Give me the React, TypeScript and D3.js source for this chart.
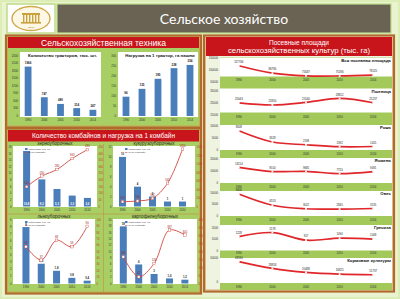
import React from 'react'
import * as d3 from 'd3'

const years = ['1990', '2000', '2005', '2010', '2014']

// тракторы
const tractorCount = [1966, 747, 480, 314, 247]
const tractorLoad = [96, 135, 185, 238, 254]

// комбайны: количество (тыс. шт.) и нагрузка (га на 1 комбайн)
const grainCount = [16.8, 8.2, 5.3, 3.3, 2.6]
const grainLoad = [150, 230, 280, 363, 430]
const cornCount = [10, 4, 2, 1, 1]
const cornLoad = [113, 130, 192, 545, 1350]
const flaxCount = [8, 2.8, 1.8, 0.8, 0.4]
const flaxLoad = [58, 37, 68, 58, 90]
const potatoCount = [18, 6, 3, 1.6, 1.2]
const potatoLoad = [168, 42, 126, 337, 305]

// посевные площади, тыс. га
const cropNames = ['Вся посевная площадь', 'Пшеница', 'Рожь', 'Ячмень', 'Овес', 'Гречиха', 'Кормовые культуры']
const cropAll = [117706, 86780, 75637, 75186, 78525]
const cropWheat = [25043, 23350, 25540, 28812, 25237]
const cropRye = [8008, 3328, 2198, 1392, 1455]
const cropBarley = [13154, 9550, 9685, 7720, 9491]
const cropOats = [9400, 4553, 3022, 2845, 3135]
const cropBuckwheat = [1228, 1578, 917, 1090, 1008]
const cropFodder = [43160, 28858, 20488, 16825, 15737]
const cropTicks = [
  [50000, 100000, 150000],
  [15000, 25000, 35000],
  [0, 5000, 10000],
  [0, 10000, 20000],
  [0, 5000, 10000],
  [0, 1000, 2000],
  [0, 50000],
]
const cropSeries = [cropAll, cropWheat, cropRye, cropBarley, cropOats, cropBuckwheat, cropFodder]

const BLUE = '#4a7ebb'
const RED = '#c8141b'
const LINE = '#e0262a'
const BROWN = '#b06a2c'
const GREEN = '#a7cf63'
const SANS = 'Liberation Sans, Arial, sans-serif'

const num = (v: number) => String(v).replace('.', ',')

function Panel({ x, y, w, h, fill }: { x: number; y: number; w: number; h: number; fill: string }) {
  return (
    <g>
      <rect x={x} y={y} width={w} height={h} fill={fill} stroke={BROWN} strokeWidth={2.2} />
      <rect x={x + 1.6} y={y + 1.6} width={w - 3.2} height={h - 3.2} fill="none" stroke="#d99a55" strokeWidth={0.6} />
    </g>
  )
}

function Header({ x, y, w, h, lines, size, widths }: { x: number; y: number; w: number; h: number; lines: string[]; size: number; widths: number[] }) {
  const cx = x + w / 2
  const gap = size * 1.15
  const y0 = y + h / 2 - ((lines.length - 1) * gap) / 2 + size * 0.35
  return (
    <g>
      <rect x={x} y={y} width={w} height={h} fill={RED} />
      {lines.map((t, i) => (
        <text key={i} x={cx} y={y0 + i * gap} textAnchor="middle" fontFamily={SANS} fontSize={size} fill="#fff"
          textLength={widths[i]} lengthAdjust="spacingAndGlyphs">{t}</text>
      ))}
    </g>
  )
}

type BarProps = { x: number; y: number; w: number; h: number; top: number; values: number[]; max: number; step: number; title: string }

function TractorChart({ x, y, w, h, top, values, max, step, title }: BarProps) {
  const xs = d3.scalePoint<string>().domain(years).range([x, x + w]).padding(0.5)
  const base = y + h - 1
  const ys = d3.scaleLinear().domain([0, max]).range([base, top])
  const ticks = d3.range(0, max + 1, step)
  return (
    <g>
      <rect x={x} y={y} width={w} height={h} fill="#fff" />
      {ticks.map((t) => (
        <text key={t} x={x - 2} y={ys(t) + 1} textAnchor="end" fontFamily={SANS} fontSize={2.8} fill="#333">{t}</text>
      ))}
      {values.map((v, i) => (
        <g key={i}>
          <rect x={xs(years[i])! - 3.4} y={ys(v)} width={6.8} height={base - ys(v)} fill={BLUE} />
          <text x={xs(years[i])!} y={ys(v) - 2.5} textAnchor="middle" fontFamily={SANS} fontSize={3} fontWeight="bold" fill="#222">{v}</text>
          <text x={xs(years[i])!} y={base + 4.5} textAnchor="middle" fontFamily={SANS} fontSize={2.8} fill="#333">{years[i]}</text>
        </g>
      ))}
      <text x={x + w / 2 + 2} y={y + 5} textAnchor="middle" fontFamily={SANS} fontSize={4.4} fontWeight="bold" fill="#111">{title}</text>
    </g>
  )
}

type ComboProps = {
  x: number; y: number; w: number; h: number; r0: number; r1: number; title: string
  counts: number[]; cMax: number; cStep: number; loads: number[]; lMax: number; lStep: number; inside?: boolean
}

function ComboChart({ x, y, w, h, r0, r1, title, counts, cMax, cStep, loads, lMax, lStep, inside }: ComboProps) {
  const xs = d3.scalePoint<string>().domain(years).range([r0, r1]).padding(0.5)
  const base = y + h - 0.5
  const top = y + 1
  const yl = d3.scaleLinear().domain([0, cMax]).range([base, top])
  const yr = d3.scaleLinear().domain([0, lMax]).range([base, top])
  const line = d3.line<number>().x((_, i) => xs(years[i])!).y((d) => yr(d)).curve(d3.curveCatmullRom.alpha(0.5))
  return (
    <g>
      <rect x={x} y={y} width={w} height={h} fill="#fff" />
      <text x={x + w / 2} y={y - 0.8} textAnchor="middle" fontFamily={SANS} fontSize={4.6} fill="#2a2a2a">{title}</text>
      {d3.range(0, cMax + 0.001, cStep).map((t) => (
        <text key={'l' + t} x={x - 1.5} y={yl(t) + 1} textAnchor="end" fontFamily={SANS} fontSize={2.6} fill="#333">{t}</text>
      ))}
      {d3.range(0, lMax + 0.001, lStep).map((t) => (
        <text key={'r' + t} x={x + w + 1.5} y={yr(t) + 1} fontFamily={SANS} fontSize={2.6} fill="#c0392b">{t}</text>
      ))}
      {counts.map((v, i) => (
        <g key={i}>
          <rect x={xs(years[i])! - 3.5} y={yl(v)} width={7} height={base - yl(v)} fill={BLUE} />
          <text x={xs(years[i])!} y={inside ? base - 1.5 : yl(v) - 1.5} textAnchor="middle" fontFamily={SANS} fontSize={2.8}
            fontWeight="bold" fill={inside ? '#fff' : '#222'}>{num(v)}</text>
          <text x={xs(years[i])!} y={base + 4.5} textAnchor="middle" fontFamily={SANS} fontSize={2.8} fill="#333">{years[i]}</text>
        </g>
      ))}
      <path d={line(loads)!} fill="none" stroke="#d0463e" strokeWidth={0.9} />
      {loads.map((v, i) => (
        <g key={'p' + i}>
          <rect x={xs(years[i])! - 1.3} y={yr(v) - 1.3} width={2.6} height={2.6} fill="#fff" stroke="#d0463e" strokeWidth={0.4} />
          <text x={xs(years[i])!} y={yr(v) - 2.5} textAnchor="middle" fontFamily={SANS} fontSize={2.8} fill="#a02020">{v}</text>
        </g>
      ))}
      <rect x={x + 12} y={y + 2} width={2.5} height={2} fill={BLUE} />
      <text x={x + 15.5} y={y + 3.8} fontFamily={SANS} fontSize={2.3} fill="#333">Количество, тыс. шт.</text>
      <line x1={x + 12} x2={x + 14.5} y1={y + 6.5} y2={y + 6.5} stroke="#d0463e" strokeWidth={0.6} />
      <text x={x + 15.5} y={y + 7.3} fontFamily={SANS} fontSize={2.3} fill="#333">га на 1 комбайн</text>
    </g>
  )
}

const rowLayout = [
  { band: [57.5, 76.5], ticks: [58, 82], yr: 79.8 },
  { band: [88.5, 112.5], ticks: [91, 115], yr: 117 },
  { band: [125, 150], ticks: [126, 150], yr: 153.8 },
  { band: [158, 183], ticks: [159.3, 182.7], yr: 187 },
  { band: [191, 216], ticks: [192.7, 215.7], yr: 220.3 },
  { band: [225, 250.5], ticks: [227.7, 250.7], yr: 253.3 },
  { band: [258, 283], ticks: [258.3, 282.3], yr: 286.5 },
]

function CropRows() {
  const xs = d3.scalePoint<string>().domain(years).range([222, 390]).padding(0.5)
  return (
    <g>
      <rect x={220} y={57} width={172} height={233} fill="#a2c95a" />
      {cropSeries.map((vals, r) => {
        const L = rowLayout[r]
        const tk = cropTicks[r]
        const ys = d3.scaleLinear().domain([tk[0], tk[tk.length - 1]]).range([L.ticks[1], L.ticks[0]])
        const line = d3.line<number>().x((_, i) => xs(years[i])!).y((d) => ys(d)).curve(d3.curveCatmullRom.alpha(0.5))
        return (
          <g key={r}>
            <rect x={220} y={L.band[0]} width={172} height={L.band[1] - L.band[0]} fill="#fff" />
            {tk.map((t) => (
              <text key={t} x={218} y={ys(t) + 1} textAnchor="end" fontFamily={SANS} fontSize={2.8} fill="#333">{t}</text>
            ))}
            {years.map((yv) => (
              <text key={yv} x={xs(yv)!} y={L.yr + 1} textAnchor="middle" fontFamily={SANS} fontSize={2.8} fill="#333">{yv}</text>
            ))}
            <path d={line(vals)!} fill="none" stroke={LINE} strokeWidth={1.7} />
            {vals.map((v, i) => (
              <g key={i}>
                <rect x={xs(years[i])! - 0.9} y={ys(v) - 0.9} width={1.8} height={1.8} fill="#fff" />
                <text x={xs(years[i])!} y={ys(v) - 2.8} textAnchor="middle" fontFamily={SANS} fontSize={2.8} fill="#222">{v}</text>
              </g>
            ))}
            <text x={391} y={L.band[0] + 4.3} textAnchor="end" fontFamily={SANS} fontSize={4.3} fontWeight="bold" fill="#111">{cropNames[r]}</text>
          </g>
        )
      })}
    </g>
  )
}

function Logo() {
  return (
    <g>
      <rect x={7} y={4} width={48} height={29} fill="#fff" stroke="#bfdc8a" strokeWidth={1.5} />
      <ellipse cx={31} cy={18.5} rx={19} ry={12} fill="#fdf8e6" stroke="#cfa94a" strokeWidth={1.4} />
      <rect x={22} y={13} width={18} height={2} fill="#c9a13d" />
      {d3.range(6).map((i) => (
        <rect key={i} x={23 + i * 3} y={15} width={1.4} height={7} fill="#c9a13d" />
      ))}
      <rect x={21} y={22} width={20} height={1.6} fill="#c9a13d" />
      <text x={31} y={27.5} textAnchor="middle" fontFamily={SANS} fontSize={2.5} fill="#b08a2e">ГДРБ</text>
    </g>
  )
}

export default function App() {
  return (
    <div style={{ position: 'absolute', left: 0, top: 0 }}>
      <svg width={400} height={299} viewBox="0 0 400 299" style={{ display: 'block' }}>
        <rect width={400} height={299} fill="#dcedb6" />
        <rect x={2} y={2} width={396} height={295} fill="#e9f3cf" />
        <Logo />
        <rect x={57} y={4} width={334} height={29} fill="#6a6354" stroke="#bfdc8a" strokeWidth={1.2} />
        <text x={224} y={23.5} textAnchor="middle" fontFamily="Lato, Open Sans, sans-serif" fontSize={14} fill="#fff">Сельское хозяйство</text>

        <Panel x={6} y={35.5} w={195} h={92} fill={GREEN} />
        <Header x={8} y={37} w={191} h={11} lines={['Сельскохозяйственная техника']} size={9} widths={[125]} />
        <TractorChart x={20} y={52} w={81} h={65} top={55.7} values={tractorCount} max={2400} step={300} title="Количество тракторов, тыс. шт." />
        <TractorChart x={118} y={52} w={80} h={65} top={55.7} values={tractorLoad} max={300} step={50} title="Нагрузка на 1 трактор, га пашни" />

        <Panel x={6} y={128.5} w={195} h={165} fill={GREEN} />
        <Header x={8} y={130} w={191} h={11.5} lines={['Количество комбайнов и нагрузка на 1 комбайн']} size={7} widths={[143]} />
        <ComboChart x={13} y={146} w={84} h={61} r0={19} r1={95} title="зерноуборочных"
          counts={grainCount} cMax={18} cStep={2} loads={grainLoad} lMax={450} lStep={50} inside />
        <ComboChart x={113} y={146} w={82} h={61} r0={115} r1={190} title="кукурузоуборочных"
          counts={cornCount} cMax={12} cStep={2} loads={cornLoad} lMax={1400} lStep={200} />
        <ComboChart x={13} y={219} w={82} h={65} r0={18.3} r1={94.8} title="льноуборочных"
          counts={flaxCount} cMax={9} cStep={1} loads={flaxLoad} lMax={100} lStep={10} />
        <ComboChart x={113} y={219} w={84} h={65} r0={115.6} r1={192.6} title="картофелеуборочных"
          counts={potatoCount} cMax={20} cStep={2} loads={potatoLoad} lMax={400} lStep={50} />
        <line x1={103.5} x2={103.5} y1={144} y2={292} stroke="#c98a45" strokeWidth={0.6} />
        <line x1={8} x2={199} y1={214} y2={214} stroke="#c98a45" strokeWidth={0.6} />

        <Panel x={204} y={35.5} w={190} h={256} fill="#eef4df" />
        <Header x={206} y={37} w={186} h={19} lines={['Посевные площади', 'сельскохозяйственных культур (тыс. га)']} size={7.5} widths={[60, 142]} />
        <CropRows />
      </svg>
    </div>
  )
}
